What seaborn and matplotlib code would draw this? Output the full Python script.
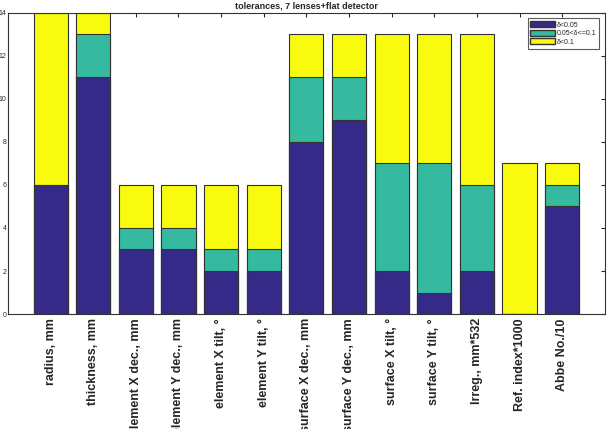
import matplotlib
matplotlib.use("Agg")
import matplotlib.pyplot as plt
import seaborn as sns
import numpy as np
import pandas as pd
from matplotlib.patches import Patch

sns.set_style("white")
plt.rcParams["font.family"] = ["Liberation Sans", "DejaVu Sans"]

# categories and stacked counts per tolerance band
categories = ["radius, mm", "thickness, mm", "element X dec., mm", "element Y dec., mm",
              "element X tilt, °", "element Y tilt, °", "surface X dec., mm",
              "surface Y dec., mm", "surface X tilt, °", "surface Y tilt, °",
              "Irreg., mm*532", "Ref. index*1000", "Abbe No./10"]
low = [6, 11, 3, 3, 2, 2, 8, 9, 2, 1, 2, 0, 5]
mid = [0, 2, 1, 1, 1, 1, 3, 2, 5, 6, 4, 0, 1]
high = [8, 1, 2, 2, 3, 3, 2, 2, 6, 6, 7, 7, 1]
labels = ["δ<0.05", "0.05<δ<=0.1", "δ<0.1"]
colors = ["#352a87", "#35b99f", "#f9fb0e"]

df = pd.DataFrame({"cat": categories, "low": low, "mid": mid, "high": high})
df["c2"] = df["low"] + df["mid"]
df["c3"] = df["c2"] + df["high"]

fig = plt.figure(figsize=(6.14, 4.29), dpi=100)
ax = fig.add_axes([0.013, 0.268, 0.972, 0.702])

# draw totals first, then overlap lower bands
for col, c in zip(["c3", "c2", "low"], colors[::-1]):
    sns.barplot(data=df, x="cat", y=col, color=c, order=categories, ax=ax,
                width=0.8, edgecolor="#333333", linewidth=0.8, saturation=1)

ax.set_xlim(-1, 13)
ax.set_ylim(0, 14)
ax.set_yticks(np.arange(0, 15, 2))
ax.set_xlabel("")
ax.set_ylabel("")
ax.tick_params(axis="y", labelsize=5, direction="in", right=True, length=3, pad=1)
ax.tick_params(axis="x", direction="in", top=True, length=3, pad=3)
ax.set_xticks(range(len(categories)))
ax.set_xticklabels(categories, rotation=90, fontsize=9, fontweight="bold", va="top")
for s in ax.spines.values():
    s.set_color("#333333")
    s.set_linewidth(0.8)

ax.set_title("tolerances, 7 lenses+flat detector", fontsize=6.5, fontweight="bold", pad=3)

handles = [Patch(facecolor=c, edgecolor="#333333", label=l) for c, l in zip(colors, labels)]
leg = ax.legend(handles=handles, loc="upper right", fontsize=5, frameon=True, fancybox=False,
                edgecolor="#333333", borderpad=0.4, handlelength=3.5, handleheight=1.0,
                labelspacing=0.15, handletextpad=0.3, borderaxespad=0.8)
leg.get_frame().set_linewidth(0.8)

fig.savefig("out.png", dpi=100)
